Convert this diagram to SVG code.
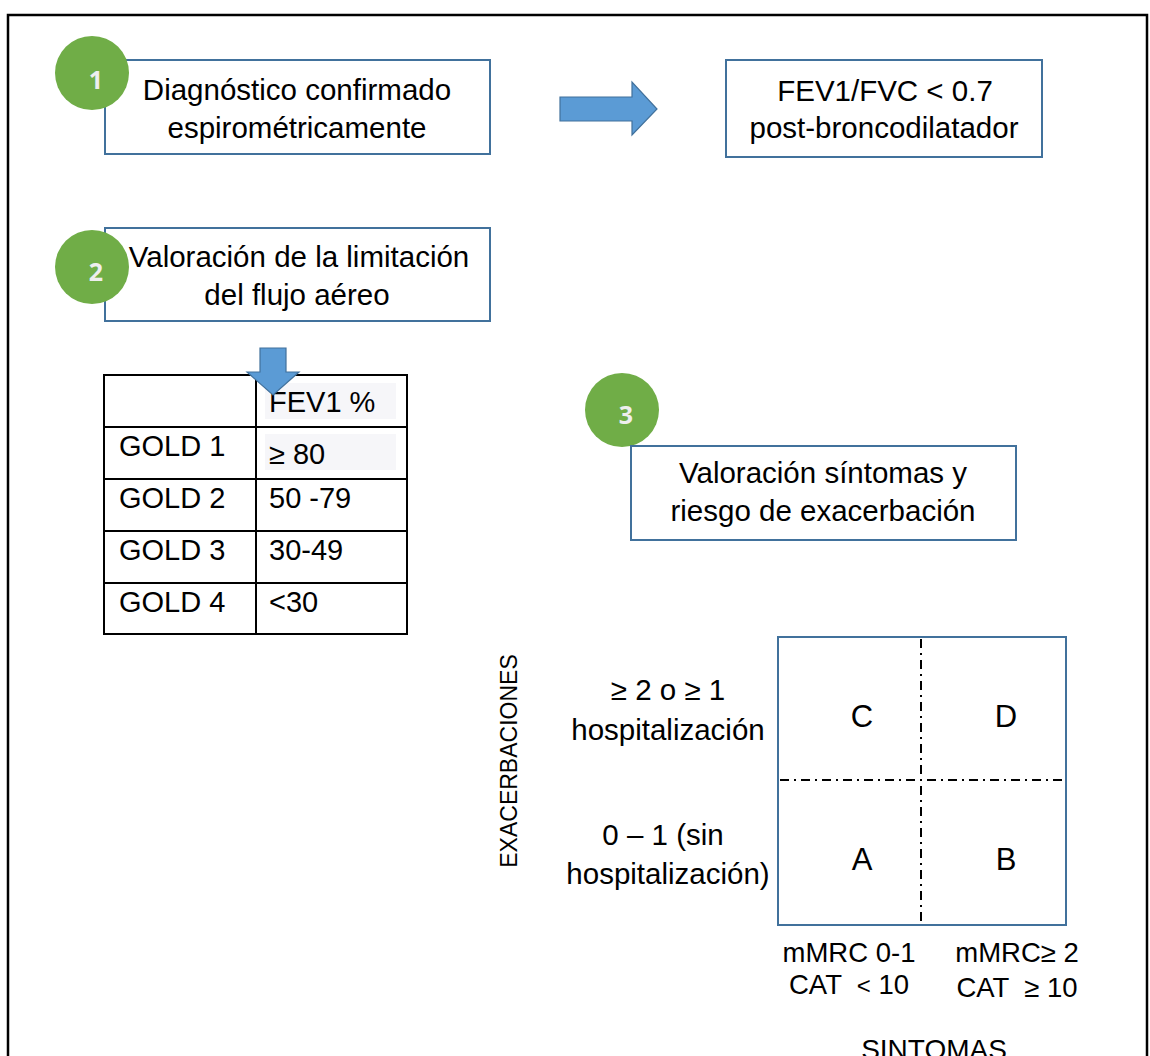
<svg xmlns="http://www.w3.org/2000/svg" width="1150" height="1056" viewBox="0 0 1150 1056">
<style>
.t{font-family:"Liberation Sans",Arial,sans-serif;fill:#000;white-space:pre;}
.box{fill:#fff;stroke:#41719C;stroke-width:2;}
.num{font-family:"Open Sans","Liberation Sans",sans-serif;font-weight:bold;font-size:25px;fill:#eeeeee;}
.circ{fill:#70AD47;}
.arrow{fill:#5B9BD5;stroke:#41719C;stroke-width:1.2;}
.grid{fill:none;stroke:#000;stroke-width:2;}
.dd{stroke:#000;stroke-width:2;stroke-dasharray:9 5 2 5;fill:none;}
</style>
<rect x="0" y="0" width="1150" height="1056" fill="#fff"/>
<rect x="8" y="15" width="1139" height="1080" fill="none" stroke="#000" stroke-width="2.5"/>

<g id="connectors">
  <polygon class="arrow" points="560,97 632,97 632,82 657,109 632,135 632,121 560,121"/>
</g>

<g id="box1">
  <rect class="box" x="105" y="60" width="385" height="94"/>
  <text class="t" x="297" y="100" font-size="29.5" text-anchor="middle">Diagnóstico confirmado</text>
  <text class="t" x="297" y="138" font-size="29.5" text-anchor="middle">espirométricamente</text>
</g>
<g id="step1">
  <circle class="circ" cx="92" cy="73" r="37"/>
  <text class="num" x="96" y="89" text-anchor="middle">1</text>
</g>

<g id="box2">
  <rect class="box" x="726" y="60" width="316" height="97"/>
  <text class="t" x="885" y="101" font-size="29.5" text-anchor="middle">FEV1/FVC &lt; 0.7</text>
  <text class="t" x="884" y="138" font-size="29.5" text-anchor="middle">post-broncodilatador</text>
</g>

<g id="box3">
  <rect class="box" x="105" y="228" width="385" height="93"/>
  <text class="t" x="299" y="267" font-size="29.5" text-anchor="middle">Valoración de la limitación</text>
  <text class="t" x="297" y="305" font-size="29.5" text-anchor="middle">del flujo aéreo</text>
</g>
<g id="step2">
  <circle class="circ" cx="92" cy="267" r="37"/>
  <text class="num" x="96" y="281" text-anchor="middle">2</text>
</g>

<g id="table">
  <rect x="265" y="383" width="131" height="36" fill="#f6f6f9"/>
  <rect x="265" y="434" width="131" height="36" fill="#f6f6f9"/>
  <rect class="grid" x="104" y="375" width="303" height="259"/>
  <line class="grid" x1="256" y1="375" x2="256" y2="634"/>
  <line class="grid" x1="104" y1="427" x2="407" y2="427"/>
  <line class="grid" x1="104" y1="479" x2="407" y2="479"/>
  <line class="grid" x1="104" y1="531" x2="407" y2="531"/>
  <line class="grid" x1="104" y1="583" x2="407" y2="583"/>
  <text class="t" x="269" y="412" font-size="29">FEV1 %</text>
  <text class="t" x="119" y="456" font-size="29">GOLD 1</text>
  <text class="t" x="269" y="464" font-size="29">≥ 80</text>
  <text class="t" x="119" y="508" font-size="29">GOLD 2</text>
  <text class="t" x="269" y="508" font-size="29">50 -79</text>
  <text class="t" x="119" y="560" font-size="29">GOLD 3</text>
  <text class="t" x="269" y="560" font-size="29">30-49</text>
  <text class="t" x="119" y="612" font-size="29">GOLD 4</text>
  <text class="t" x="269" y="612" font-size="29">&lt;30</text>
</g>

<g id="arrow-down">
  <polygon class="arrow" points="260,348 286,348 286,372 299,372 273,395 247,372 260,372"/>
</g>

<g id="step3">
  <circle class="circ" cx="622" cy="410" r="37"/>
  <text class="num" x="626" y="424" text-anchor="middle">3</text>
</g>
<g id="box4">
  <rect class="box" x="631" y="446" width="385" height="94"/>
  <text class="t" x="823" y="483" font-size="29.5" text-anchor="middle">Valoración síntomas y</text>
  <text class="t" x="823" y="521" font-size="29.5" text-anchor="middle">riesgo de exacerbación</text>
</g>

<g id="matrix">
  <rect class="box" x="778" y="637" width="288" height="288"/>
  <line class="dd" x1="921" y1="639" x2="921" y2="923"/>
  <line class="dd" x1="780" y1="780" x2="1064" y2="780"/>
  <text class="t" x="862" y="727" font-size="31" text-anchor="middle">C</text>
  <text class="t" x="1006" y="727" font-size="31" text-anchor="middle">D</text>
  <text class="t" x="862" y="870" font-size="31" text-anchor="middle">A</text>
  <text class="t" x="1006" y="870" font-size="31" text-anchor="middle">B</text>
</g>

<g id="labels">
  <text class="t" x="668" y="700" font-size="29.5" text-anchor="middle">≥ 2 o ≥ 1</text>
  <text class="t" x="668" y="740" font-size="29.5" text-anchor="middle">hospitalización</text>
  <text class="t" x="663" y="845" font-size="29.5" text-anchor="middle">0 – 1 (sin</text>
  <text class="t" x="668" y="884" font-size="29.5" text-anchor="middle">hospitalización)</text>
  <text class="t" transform="translate(517,761) rotate(-90)" font-size="23" text-anchor="middle">EXACERBACIONES</text>
  <text class="t" x="849" y="962" font-size="27.5" text-anchor="middle">mMRC 0-1</text>
  <text class="t" x="849" y="994" font-size="27.5" text-anchor="middle">CAT  <tspan font-size="24">&lt;</tspan> 10</text>
  <text class="t" x="1017" y="962" font-size="27.5" text-anchor="middle">mMRC≥ 2</text>
  <text class="t" x="1017" y="997" font-size="27.5" text-anchor="middle">CAT  ≥ 10</text>
  <text class="t" x="934" y="1059" font-size="28" text-anchor="middle">SINTOMAS</text>
</g>
</svg>
